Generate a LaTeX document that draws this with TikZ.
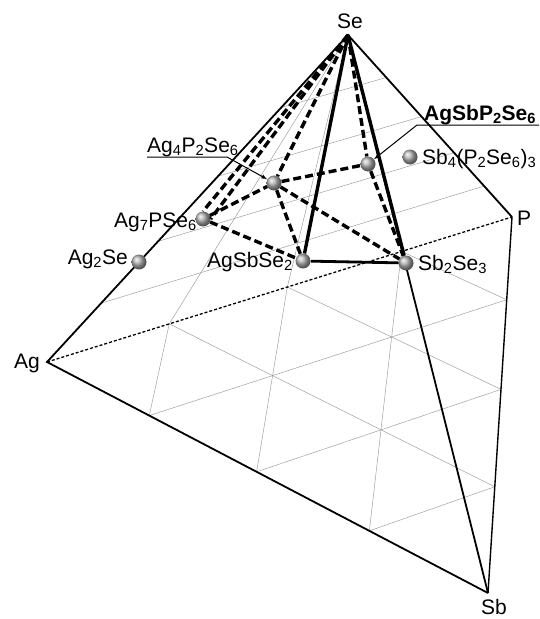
\documentclass[tikz,border=0pt]{standalone}
\usepackage{fontspec}
\setmainfont{Liberation Sans}
\usepackage{tikz}
\usetikzlibrary{calc}
\usetikzlibrary{arrows}

% point of the tetrahedron in perspective, from its four fractions
\newcommand{\facept}[5]{%
  \pgfmathsetmacro\wAg{#2*1.000}%
  \pgfmathsetmacro\wSb{#3*0.906}%
  \pgfmathsetmacro\wP{#4*1.070}%
  \pgfmathsetmacro\wSe{#5*0.877}%
  \coordinate (#1) at (barycentric cs:Ag=\wAg,Sb=\wSb,P=\wP,Se=\wSe);}

\begin{document}
\begin{tikzpicture}[x=1pt,y=-1pt,
    gridline/.style={gray!80, line width=0.45pt},
    edge/.style={line width=1.8pt},
    hidden/.style={line width=1.3pt, dash pattern=on 3pt off 2pt},
    tieline/.style={line width=3.4pt},
    tiedash/.style={line width=3.4pt, dash pattern=on 8pt off 4pt},
    phase/.style={circle, minimum size=15pt, inner sep=0pt, shading=ball, ball color=gray!60},
    lbl/.style={font=\fontsize{21}{25}\selectfont, inner sep=0pt}]
    \useasboundingbox (0,0) rectangle (539,619);

    \coordinate (Ag) at ( 47,362);
    \coordinate (Sb) at (488,593);
    \coordinate (P)  at (512,217);
    \coordinate (Se) at (348, 35);

    % grid on the base and on the back face
    \foreach \t in {0.25,0.5,0.75} {
        \pgfmathsetmacro\u{1-\t}
        \facept{a1}{\u}{\t}{0}{0}
        \facept{a2}{0}{\t}{\u}{0}
        \facept{b1}{\u}{0}{\t}{0}
        \facept{b2}{0}{\u}{\t}{0}
        \facept{c1}{\t}{\u}{0}{0}
        \facept{c2}{\t}{0}{\u}{0}
        \draw[gridline] (a1) -- (a2);
        \draw[gridline] (b1) -- (b2);
        \draw[gridline] (c1) -- (c2);
        \draw[gridline] (Se) -- (b1);
    }
    \foreach \s in {0.2,0.4,0.6,0.8} {
        \pgfmathsetmacro\u{1-\s}
        \facept{d1}{\u}{0}{0}{\s}
        \facept{d2}{0}{0}{\u}{\s}
        \draw[gridline] (d1) -- (d2);
    }

    % edges
    \draw[hidden] (Ag) -- (P);
    \draw[edge] (Sb) -- (Ag) -- (Se) -- (P);
    \draw[line width=1.4pt] (P) -- (Sb);
    \draw[edge] (Se) -- (Sb);

    % phases
    \node[phase] (ag2se)     at (139,262) {};
    \node[phase] (ag7pse6)   at (203,219) {};
    \node[phase] (ag4p2se6)  at (274,183) {};
    \node[phase] (agsbse2)   at (303,261) {};
    \node[phase] (sb2se3)    at (406,263) {};
    \node[phase] (agsbp2se6) at (368,164) {};
    \node[phase] (sb4p2se63) at (410,157) {};

    % tie lines
    \draw[tiedash] (Se) -- (ag7pse6.north);
    \draw[tiedash] (Se) -- (ag7pse6.east);
    \draw[tiedash] (Se) -- (ag4p2se6);
    \draw[tiedash] (Se) -- (agsbp2se6);
    \draw[tiedash] (ag7pse6) -- (ag4p2se6);
    \draw[tiedash] (ag7pse6) -- (agsbse2);
    \draw[tiedash] (ag4p2se6) -- (agsbse2);
    \draw[tiedash] (ag4p2se6) -- (agsbp2se6);
    \draw[tiedash] (ag4p2se6) -- (sb2se3);
    \draw[tiedash] (agsbp2se6) -- (sb2se3);
    \draw[tieline] (Se) -- (agsbse2);
    \draw[tieline] (Se) -- (sb2se3);
    \draw[line width=2.8pt] (agsbse2) -- (sb2se3);

    % labels
    \node[lbl, anchor=base]      (lse)  at (350,28)  {Se};
    \node[lbl, anchor=base east] (lag)  at (40,368)  {Ag};
    \node[lbl, anchor=base]      (lsb)  at (494,614) {Sb};
    \node[lbl, anchor=base west] (lp)   at (517,225) {P};
    \node[lbl, anchor=base east] (l1)   at (128,264) {Ag\textsubscript{2}Se};
    \node[lbl, anchor=base east] (l2)   at (197,227) {Ag\textsubscript{7}PSe\textsubscript{6}};
    \node[lbl, anchor=base east] (l3)   at (293,267) {AgSbSe\textsubscript{2}};
    \node[lbl, anchor=base west] (l4)   at (418,270) {Sb\textsubscript{2}Se\textsubscript{3}};
    \node[lbl, anchor=base west] (l5)   at (422,164) {Sb\textsubscript{4}(P\textsubscript{2}Se\textsubscript{6})\textsubscript{3}};
    \node[lbl, anchor=base west] (l6)   at (147,152) {Ag\textsubscript{4}P\textsubscript{2}Se\textsubscript{6}};
    \node[lbl, anchor=base west, font=\fontsize{21}{25}\selectfont\bfseries] (l7) at (424,120) {AgSbP\textsubscript{2}Se\textsubscript{6}};

    % leaders
    \coordinate (u6a) at (147,157);
    \coordinate (u6b) at (227,157);
    \coordinate (u7a) at (417,125);
    \coordinate (u7b) at (539,125);
    \draw[line width=1pt, -latex] (u6a) -- (u6b) -- (ag4p2se6);
    \draw[line width=1pt, -latex] (u7b) -- (u7a) -- (agsbp2se6);
\end{tikzpicture}
\end{document}
